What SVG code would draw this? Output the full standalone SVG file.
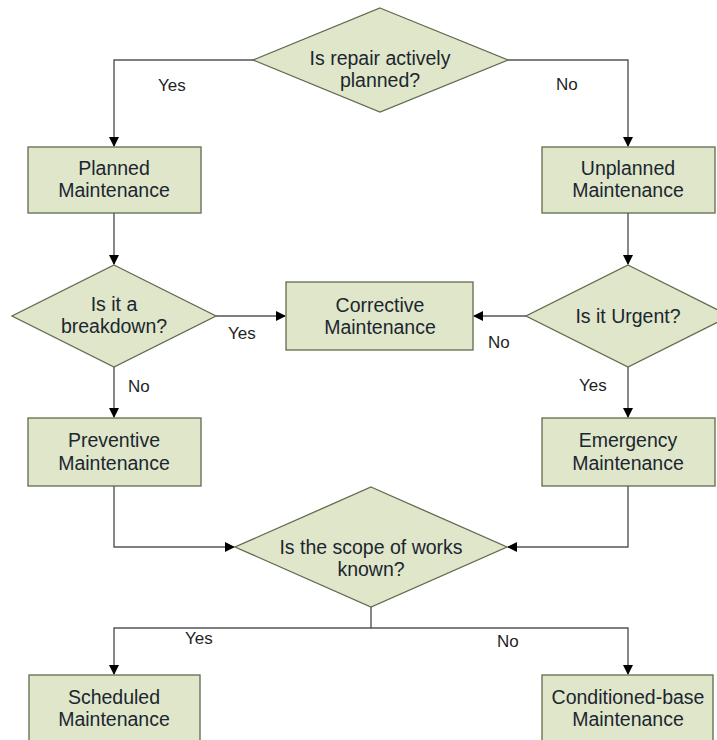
<svg xmlns="http://www.w3.org/2000/svg" width="717" height="740" viewBox="0 0 717 740">
<defs>
<style>
.n{fill:#dfe6c9;stroke:#5f6b4e;stroke-width:1.3}
.t{font-family:"Liberation Sans",Arial,sans-serif;font-size:19.5px;fill:#1c2630;text-anchor:middle}
.l{font-family:"Liberation Sans",Arial,sans-serif;font-size:17px;fill:#1f1f1f}
.c{fill:none;stroke:#555;stroke-width:1.4}
</style>
<marker id="a" markerWidth="10" markerHeight="10" refX="9" refY="5" orient="auto" markerUnits="userSpaceOnUse"><path d="M0,0 L10,5 L0,10 z" fill="#000"/></marker>
</defs>
<rect width="717" height="740" fill="#fff"/>
<g id="connectors">
<path class="c" d="M253,60 H114 V146" marker-end="url(#a)"/>
<path class="c" d="M508,60 H628 V146" marker-end="url(#a)"/>
<path class="c" d="M114,213 V264" marker-end="url(#a)"/>
<path class="c" d="M628,213 V264" marker-end="url(#a)"/>
<path class="c" d="M216,316 H285" marker-end="url(#a)"/>
<path class="c" d="M526,316 H474" marker-end="url(#a)"/>
<path class="c" d="M114,367 V417" marker-end="url(#a)"/>
<path class="c" d="M628,367 V417" marker-end="url(#a)"/>
<path class="c" d="M114,486 V547 H234" marker-end="url(#a)"/>
<path class="c" d="M628,486 V547 H508" marker-end="url(#a)"/>
<path class="c" d="M371,607 V628 H114 V674" marker-end="url(#a)"/>
<path class="c" d="M371,628 H628 V674" marker-end="url(#a)"/>
<text class="l" x="158" y="91">Yes</text>
<text class="l" x="556" y="90">No</text>
<text class="l" x="228" y="339">Yes</text>
<text class="l" x="488" y="348">No</text>
<text class="l" x="128" y="392">No</text>
<text class="l" x="579" y="391">Yes</text>
<text class="l" x="185" y="644">Yes</text>
<text class="l" x="497" y="647">No</text>
</g>
<g id="q1"><polygon class="n" points="380,8 508,60 380,112 253,60"/><text class="t" x="380" y="65">Is repair actively</text><text class="t" x="380" y="87">planned?</text></g>
<g id="planned"><rect class="n" x="28" y="147" width="173" height="66"/><text class="t" x="114" y="175">Planned</text><text class="t" x="114" y="197">Maintenance</text></g>
<g id="unplanned"><rect class="n" x="542" y="147" width="173" height="66"/><text class="t" x="628" y="175">Unplanned</text><text class="t" x="628" y="197">Maintenance</text></g>
<g id="q2"><polygon class="n" points="114,265 216,316 114,367 12,316"/><text class="t" x="114" y="311">Is it a</text><text class="t" x="114" y="333">breakdown?</text></g>
<g id="corrective"><rect class="n" x="286" y="282" width="187" height="68"/><text class="t" x="380" y="312">Corrective</text><text class="t" x="380" y="334">Maintenance</text></g>
<g id="q3"><polygon class="n" points="628,265 730,316 628,367 526,316"/><text class="t" x="628" y="323">Is it Urgent?</text></g>
<g id="preventive"><rect class="n" x="28" y="418" width="173" height="68"/><text class="t" x="114" y="447">Preventive</text><text class="t" x="114" y="470">Maintenance</text></g>
<g id="emergency"><rect class="n" x="542" y="418" width="173" height="68"/><text class="t" x="628" y="447">Emergency</text><text class="t" x="628" y="470">Maintenance</text></g>
<g id="q4"><polygon class="n" points="371,487 507,547 371,607 235,547"/><text class="t" x="371" y="554">Is the scope of works</text><text class="t" x="371" y="576">known?</text></g>
<g id="scheduled"><rect class="n" x="29" y="675" width="171" height="80"/><text class="t" x="114" y="704">Scheduled</text><text class="t" x="114" y="726">Maintenance</text></g>
<g id="conditioned"><rect class="n" x="542" y="675" width="171" height="80"/><text class="t" x="628" y="704">Conditioned-base</text><text class="t" x="628" y="726">Maintenance</text></g>
</svg>
